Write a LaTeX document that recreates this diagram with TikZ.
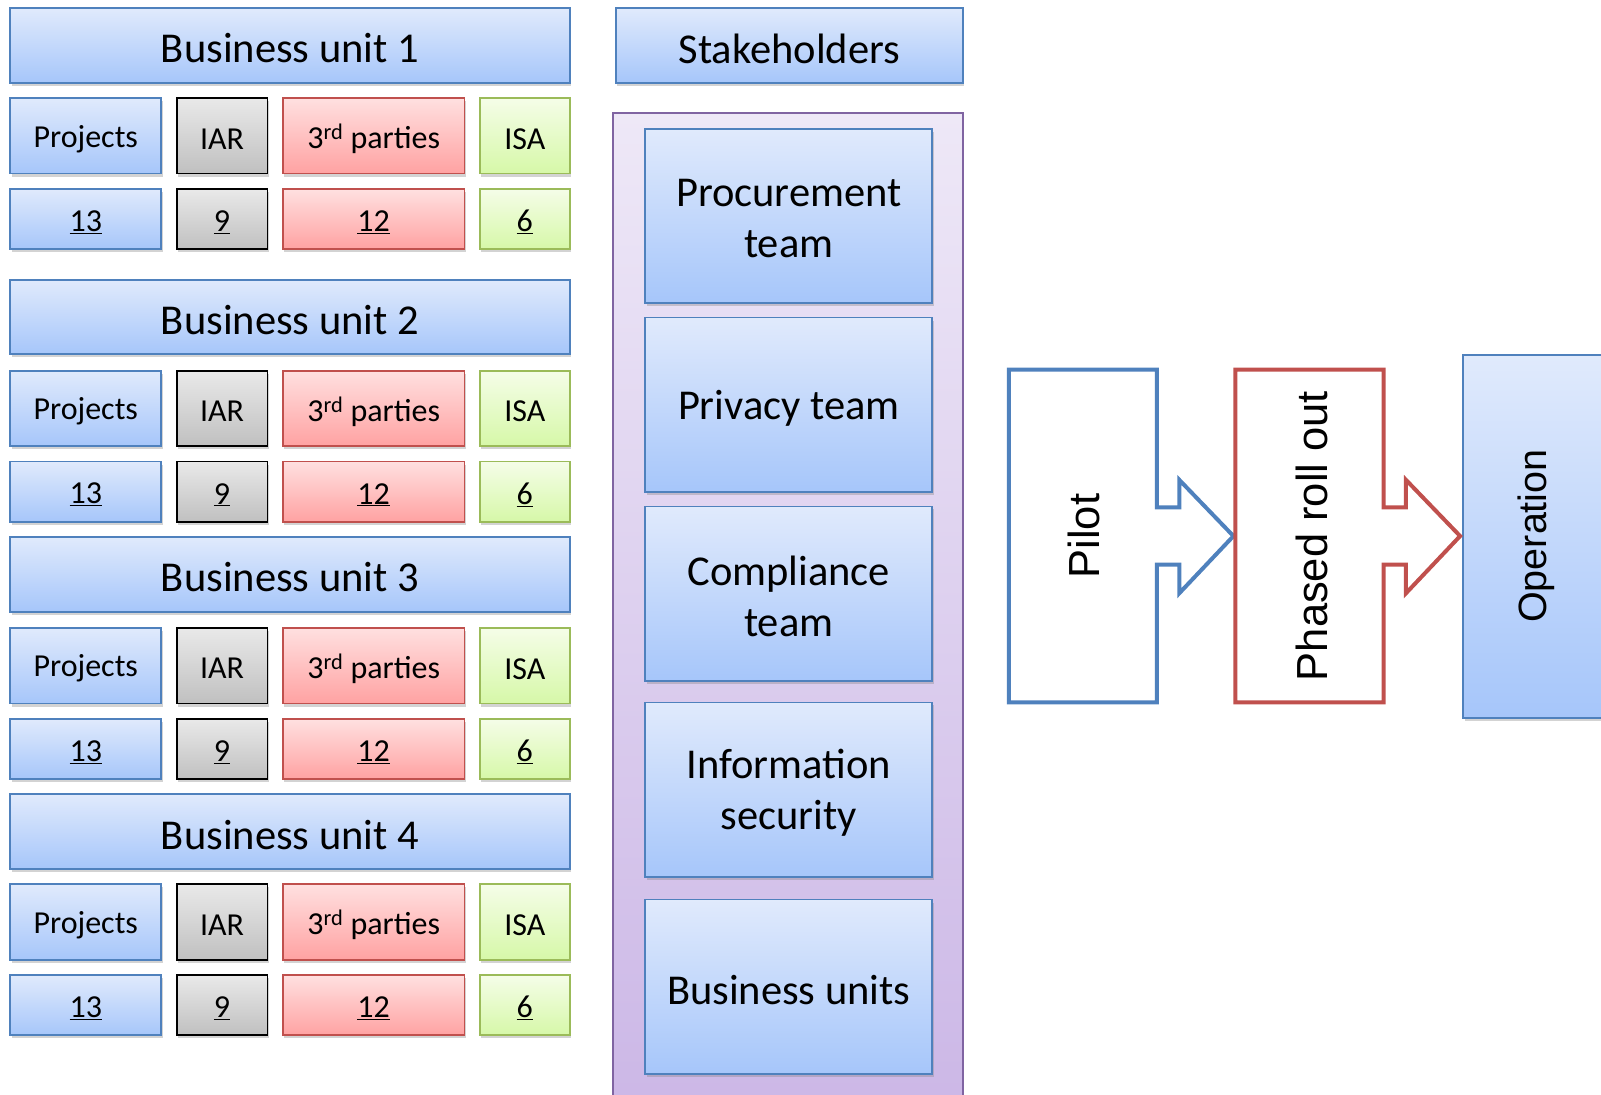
\documentclass[tikz,border=0pt]{standalone}
\usepackage{fontspec}
\setmainfont{Carlito}
\newfontfamily\arialf{Liberation Sans}
\usetikzlibrary{shadows}
\definecolor{bTop}{RGB}{224,234,252}
\definecolor{bBot}{RGB}{166,198,250}
\definecolor{bLine}{RGB}{79,129,189}
\definecolor{gTop}{RGB}{233,233,233}
\definecolor{gBot}{RGB}{192,192,192}
\definecolor{rTop}{RGB}{255,224,224}
\definecolor{rBot}{RGB}{255,162,162}
\definecolor{rLine}{RGB}{192,80,77}
\definecolor{lTop}{RGB}{245,253,232}
\definecolor{lBot}{RGB}{214,248,168}
\definecolor{lLine}{RGB}{155,187,89}
\definecolor{pTop}{RGB}{238,232,247}
\definecolor{pBot}{RGB}{203,182,230}
\definecolor{pLine}{RGB}{128,100,162}
\tikzset{
  base/.style={rectangle, inner sep=0pt, line width=1.8pt,
    drop shadow={opacity=0.35, shadow xshift=1.5pt, shadow yshift=-3pt}},
  bluebox/.style={base, draw=bLine, top color=bTop, bottom color=bBot},
  graybox/.style={base, draw=black, top color=gTop, bottom color=gBot},
  redbox/.style={base, draw=rLine, top color=rTop, bottom color=rBot},
  greenbox/.style={base, draw=lLine, top color=lTop, bottom color=lBot},
  big/.style={font=\fontsize{42.5}{51}\selectfont},
  small/.style={font=\fontsize{32}{38}\selectfont},
  lbl/.style={align=center, inner sep=0pt},
  phase/.style={line width=4pt, fill=white, line join=miter},
}
\newcommand\bx[8]{%
  \node[#6, minimum width={((#4)-(#2))*1.021pt}, minimum height={((#5)-(#3))*1.021pt}] (#1) at ({((#2)+(#4))/2},{((#3)+(#5))/2}) {};
  \node[lbl, #7] (#1t) at ([yshift=-3pt]#1.center) {#8};}
\newcommand\unitrow[3]{%
  \bx{bu#1}{10}{#2}{558}{#2+73}{bluebox}{big}{Business unit #1}
  \bx{pr#1}{10}{#3}{158}{#3+74}{bluebox}{small}{Projects}
  \bx{iar#1}{173}{#3}{262}{#3+74}{graybox}{small}{IAR}
  \bx{tp#1}{277}{#3}{455}{#3+74}{redbox}{small}{3\textsuperscript{rd} parties}
  \bx{isa#1}{470}{#3}{558}{#3+74}{greenbox}{small}{ISA}
  \bx{prn#1}{10}{#3+89}{158}{#3+148}{bluebox}{small}{\underline{13}}
  \bx{iarn#1}{173}{#3+89}{262}{#3+148}{graybox}{small}{\underline{9}}
  \bx{tpn#1}{277}{#3+89}{455}{#3+148}{redbox}{small}{\underline{12}}
  \bx{isan#1}{470}{#3+89}{558}{#3+148}{greenbox}{small}{\underline{6}}
}
\begin{document}
\begin{tikzpicture}[x=1.021pt,y=-1.021pt]
\useasboundingbox (0,0) rectangle (1568,1071.5);
\unitrow{1}{8}{96}
\unitrow{2}{274}{363}
\unitrow{3}{526}{615}
\unitrow{4}{778}{866}
% stakeholders
\bx{stk}{603}{8}{943}{81}{bluebox}{big}{Stakeholders}
\node[rectangle, inner sep=0pt, draw=pLine, line width=1.8pt, top color=pTop, bottom color=pBot,
  minimum width={343*1.021pt}, minimum height={999*1.021pt}] (panel) at (771.5,610.5) {};
\bx{proc}{632}{126}{913}{297}{bluebox}{big}{Procurement\\team}
\bx{priv}{632}{311}{913}{482}{bluebox}{big}{Privacy team}
\bx{comp}{632}{496}{913}{667}{bluebox}{big}{Compliance\\team}
\bx{infs}{632}{688}{913}{859}{bluebox}{big}{Information\\security}
\bx{bus}{632}{881}{913}{1052}{bluebox}{big}{Business units}
% phases
\node[bluebox, minimum width={207*1.021pt}, minimum height={355*1.021pt}] (oper) at (1536.5,525.5) {};
\node[rotate=90, font=\arialf\fontsize{39.5}{48}\selectfont] (opertxt) at (1505,525) {Operation};
\draw[phase, draw=bLine] (988,362) -- (1133,362) -- (1133,497) -- (1155,497) -- (1155,470)
  -- (1208,525) -- (1155,581) -- (1155,553) -- (1133,553) -- (1133,688) -- (988,688) -- cycle;
\draw[phase, draw=rLine] (1210,362) -- (1355,362) -- (1355,497) -- (1377,497) -- (1377,470)
  -- (1430,525) -- (1377,581) -- (1377,553) -- (1355,553) -- (1355,688) -- (1210,688) -- cycle;
\node[rotate=90, font=\arialf\fontsize{43.5}{52}\selectfont] (pilot) at (1062,525) {Pilot};
\node[rotate=90, font=\arialf\fontsize{43.5}{52}\selectfont] (phased) at (1285,525) {Phased roll out};
\end{tikzpicture}
\end{document}
